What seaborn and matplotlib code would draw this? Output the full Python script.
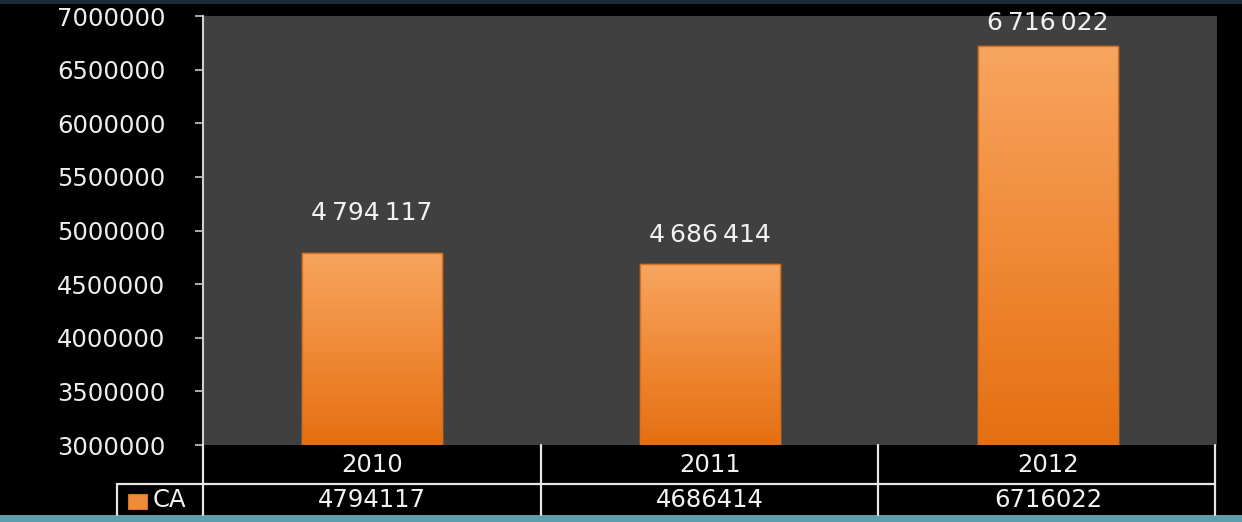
import numpy as np
import pandas as pd
import matplotlib
matplotlib.use("Agg")
import matplotlib.pyplot as plt
from matplotlib.lines import Line2D
from matplotlib.patches import Rectangle
from matplotlib.transforms import blended_transform_factory
import seaborn as sns

# --- data -------------------------------------------------------------
years = ["2010", "2011", "2012"]
ca_values = [4794117, 4686414, 6716022]
series_name = "CA"
y_ticks = [3000000, 3500000, 4000000, 4500000, 5000000,
           5500000, 6000000, 6500000, 7000000]

# label gap above each bar, in pixels (layout only)
label_gap_px = [40, 29, 23]

W, H = 1242, 522
sns.set_theme(style="dark")
plt.rcParams["font.family"] = ["DejaVu Sans"]

fig = plt.figure(figsize=(W / 100, H / 100), dpi=100, facecolor="black")


def fx(x):
    return x / W


def fy(y):
    return 1 - y / H


# plot area
left, right, top, bottom = 203, 1217, 16, 445
ax = fig.add_axes([fx(left), fy(bottom), fx(right - left), (bottom - top) / H])
ax.set_facecolor("#404040")

df = pd.DataFrame({"year": years, "ca": ca_values})
sns.barplot(data=df, x="year", y="ca", ax=ax, width=0.414,
            color="#f29a4c", edgecolor="#d9701c", linewidth=1.0,
            saturation=1, errorbar=None)

ax.set_xlim(-0.5, 2.5)
ax.set_ylim(y_ticks[0], y_ticks[-1])

# orange vertical gradient clipped to each bar
grad_cmap = matplotlib.colors.LinearSegmentedColormap.from_list(
    "bar_grad", ["#e56f12", "#f08a37", "#f7a560"])
grad = np.linspace(0, 1, 256).reshape(-1, 1)
for patch in ax.patches:
    x0 = patch.get_x()
    x1 = x0 + patch.get_width()
    h = patch.get_height()
    im = ax.imshow(grad, cmap=grad_cmap, origin="lower", aspect="auto",
                   extent=(x0, x1, y_ticks[0], h), zorder=patch.get_zorder() + 0.1,
                   interpolation="bicubic")
    im.set_clip_path(patch)
    edge = Rectangle((x0, y_ticks[0]), x1 - x0, h - y_ticks[0], fill=False,
                     edgecolor="#d9701c", linewidth=1.0,
                     zorder=patch.get_zorder() + 0.2)
    ax.add_patch(edge)
ax.set_xlim(-0.5, 2.5)
ax.set_ylim(y_ticks[0], y_ticks[-1])

# value labels above the bars
for i, (v, gap) in enumerate(zip(ca_values, label_gap_px)):
    txt = f"{v:,}".replace(",", "\u2009")
    ax.annotate(txt, xy=(i, v), xytext=(0, gap * 0.72), textcoords="offset points",
                ha="center", va="center", color="#f2f2f2", fontsize=18,
                annotation_clip=False, zorder=5)

# axes styling
ax.set_yticks(y_ticks)
ax.set_yticklabels([str(t) for t in y_ticks])
ax.tick_params(axis="y", colors="#c8c8c8", labelcolor="#eeeeee", labelsize=17.5,
               length=6, width=1.2, pad=21, left=True)
ax.set_xticks([])
ax.set_xlabel("")
ax.set_ylabel("")
ax.grid(False)
for s in ["top", "right", "bottom"]:
    ax.spines[s].set_visible(False)
ax.spines["left"].set_color("#cfcfcf")
ax.spines["left"].set_linewidth(1.5)

# data table below the plot area
line_kw = dict(color="#e6e6e6", linewidth=1.6, transform=fig.transFigure)
col_edges = [left, 541, 878, 1215]
row_mid, row_bot = 484, 515
fig.add_artist(Line2D([fx(left), fx(left)], [fy(bottom), fy(row_bot)], **line_kw))
for xe in col_edges[1:]:
    fig.add_artist(Line2D([fx(xe), fx(xe)], [fy(bottom), fy(row_bot)], **line_kw))
fig.add_artist(Line2D([fx(117), fx(1215)], [fy(row_mid), fy(row_mid)], **line_kw))
fig.add_artist(Line2D([fx(117), fx(117)], [fy(row_mid), fy(row_bot)], **line_kw))

tr = blended_transform_factory(ax.transData, fig.transFigure)
for i, (yr, v) in enumerate(zip(years, ca_values)):
    ax.text(i, fy(465), yr, transform=tr, ha="center", va="center",
            color="#f2f2f2", fontsize=17.5, clip_on=False)
    ax.text(i, fy(500), str(v), transform=tr, ha="center", va="center",
            color="#f2f2f2", fontsize=17.5, clip_on=False)

# legend key in the table
key = Rectangle((fx(128), fy(509)), fx(19), 15 / H,
                transform=fig.transFigure, facecolor="#ef8b3c",
                edgecolor="#d9701c", linewidth=0.8)
fig.add_artist(key)
fig.text(fx(153), fy(500), series_name, ha="left", va="center",
         color="#f2f2f2", fontsize=17.5)

# frame strips
fig.add_artist(Rectangle((0, fy(4)), 1, 4 / H, transform=fig.transFigure,
                         facecolor="#1d2b34", edgecolor="none"))
fig.add_artist(Rectangle((0, 0), 1, 7 / H, transform=fig.transFigure,
                         facecolor="#5e9eaa", edgecolor="none"))

fig.savefig("out.png", dpi=100, facecolor="black")
